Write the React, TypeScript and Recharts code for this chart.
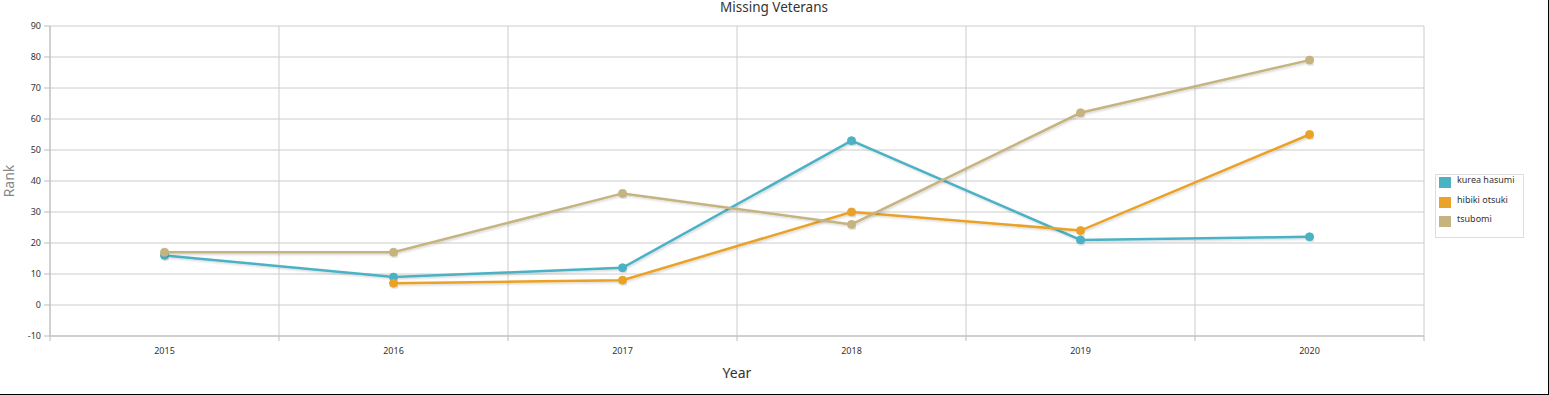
import React from "react";
import { LineChart, Line, XAxis, YAxis, CartesianGrid, Label } from "recharts";

const years = ["2015", "2016", "2017", "2018", "2019", "2020"];
const kureaHasumi = [16, 9, 12, 53, 21, 22];
const hibikiOtsuki: (number | null)[] = [null, 7, 8, 30, 24, 55];
const tsubomi = [17, 17, 36, 26, 62, 79];
const yTicks = [-10, 0, 10, 20, 30, 40, 50, 60, 70, 80, 90];

const seriesMeta = [
  { key: "kurea hasumi", color: "#4bb2c5" },
  { key: "hibiki otsuki", color: "#EAA228" },
  { key: "tsubomi", color: "#c5b47f" },
];

const data = years.map((y, i) => ({
  year: y,
  "kurea hasumi": kureaHasumi[i],
  "hibiki otsuki": hibikiOtsuki[i],
  tsubomi: tsubomi[i],
}));

const W = 1548;
const H = 394;
const M_LEFT = 50;
const M_RIGHT = 124;
const PLOT_W = W - M_LEFT - M_RIGHT;
const HALF_BAND = PLOT_W / years.length / 2;
const FONT = "'Noto Sans', 'DejaVu Sans', sans-serif";

const XTick = (props: any) => {
  const { x, y, payload, index } = props;
  return (
    <g>
      <line x1={x - HALF_BAND} x2={x - HALF_BAND} y1={y - 8} y2={y - 3} stroke="#bbb" />
      {index === years.length - 1 && (
        <line x1={x + HALF_BAND} x2={x + HALF_BAND} y1={y - 8} y2={y - 3} stroke="#bbb" />
      )}
      <text x={x} y={y + 10} textAnchor="middle" fontSize={9} fill="#333" fontFamily={FONT}>
        {payload.value}
      </text>
    </g>
  );
};

const LegendBox = () => (
  <div
    style={{
      position: "absolute",
      left: 1435,
      top: 174,
      border: "1px solid #ddd",
      padding: "0px 4px 3px 3px",
      fontFamily: FONT,
      fontSize: 9,
      color: "#333",
      background: "#fff",
      width: 80,
    }}
  >
    {seriesMeta.map((s) => (
      <div key={s.key} style={{ display: "flex", alignItems: "flex-start", height: 19.5 }}>
        <span style={{ display: "inline-block", width: 12, height: 11, background: s.color, marginRight: 6, marginTop: 2 }} />
        <span style={{ lineHeight: "12px", marginTop: -1 }}>{s.key}</span>
      </div>
    ))}
  </div>
);

export default function App() {
  return (
    <div
      style={{
        position: "absolute",
        left: 0,
        top: 0,
        width: W,
        height: H,
        borderRight: "2px solid #000",
        borderBottom: "2px solid #000",
        background: "#fff",
      }}
    >
      <div
        style={{
          position: "absolute",
          top: 0,
          left: 0,
          width: W,
          textAlign: "center",
          fontFamily: FONT,
          fontSize: 13.5,
          color: "#333",
          lineHeight: "15px",
        }}
      >
        Missing Veterans
      </div>
      <svg width={0} height={0} style={{ position: "absolute" }}>
        <defs>
          <filter id="lineShadow" x="-5%" y="-5%" width="110%" height="120%">
            <feDropShadow dx="1.2" dy="1.2" stdDeviation="0.8" floodColor="#000" floodOpacity="0.18" />
          </filter>
        </defs>
      </svg>
      <LineChart width={W} height={H} data={data} margin={{ top: 26, right: M_RIGHT, bottom: 0, left: 0 }}>
        <CartesianGrid
          stroke="#ccc"
          strokeWidth={1}
          verticalCoordinatesGenerator={({ offset }: any) =>
            Array.from({ length: years.length + 1 }, (_, i) => offset.left + (i * offset.width) / years.length)
          }
        />
        <XAxis
          dataKey="year"
          height={58}
          padding={{ left: HALF_BAND, right: HALF_BAND }}
          tickLine={false}
          axisLine={{ stroke: "#bbb" }}
          tick={<XTick />}
          interval={0}
        >
          <Label value="Year" position="insideBottom" offset={16} style={{ fontFamily: FONT, fontSize: 14, fill: "#333" }} />
        </XAxis>
        <YAxis
          width={M_LEFT}
          domain={[-10, 90]}
          ticks={yTicks}
          interval={0}
          tickSize={6}
          tickMargin={3}
          tickLine={{ stroke: "#bbb" }}
          axisLine={{ stroke: "#bbb" }}
          tick={{ fontSize: 9, fill: "#333", fontFamily: FONT }}
        >
          <Label value="Rank" angle={-90} position="insideLeft" offset={9} style={{ fontFamily: FONT, fontSize: 14, fill: "#888", textAnchor: "middle" }} />
        </YAxis>
        {seriesMeta.map((s) => (
          <Line
            key={s.key}
            dataKey={s.key}
            stroke={s.color}
            strokeWidth={2.5}
            dot={{ r: 4, fill: s.color, stroke: s.color, strokeWidth: 1 }}
            activeDot={false}
            isAnimationActive={false}
            connectNulls={false}
            filter="url(#lineShadow)"
          />
        ))}
      </LineChart>
      <LegendBox />
    </div>
  );
}
